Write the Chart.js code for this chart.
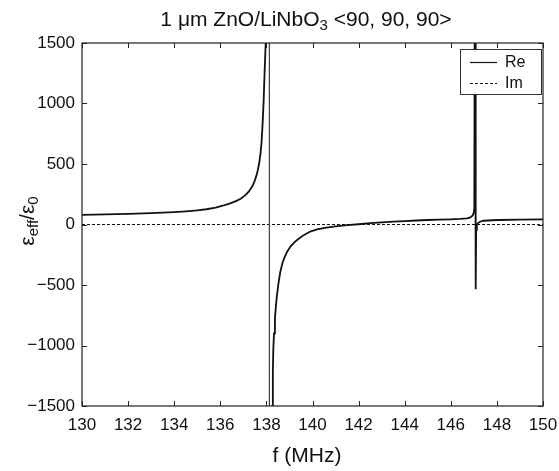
<!DOCTYPE html>
<html>
<head>
<meta charset="utf-8">
<script src="https://cdn.jsdelivr.net/npm/chart.js@4.4.1/dist/chart.umd.min.js"></script>
<style>
  body { margin: 0; background: #fff; }
  #wrap { width: 559px; height: 471px; }
</style>
</head>
<body>
<div id="wrap"><canvas id="chart"></canvas></div>
<script>
var reFreq = [130, 131, 132, 133, 134, 134.5, 135, 135.4, 135.8, 136.1, 136.4, 136.7, 136.9,
    137.1, 137.25, 137.4, 137.5, 137.6, 137.68, 137.74, 137.79, 137.84, 137.88, 137.92, 137.97,
    138.05, 138.13, 138.131, 138.2, 138.26, 138.28, 138.3, 138.33, 138.37, 138.41, 138.45,
    138.52, 138.6, 138.7, 138.8, 138.9, 139.05, 139.2, 139.4, 139.6, 139.9, 140.2, 140.6,
    141, 141.5, 142, 142.5, 143, 143.5, 144, 144.5, 145, 145.5, 146, 146.4, 146.7, 146.85,
    146.95, 147, 147.02, 147.05, 147.08, 147.1, 147.13, 147.18, 147.27, 147.41, 147.8, 148.1,
    149, 150];
var reVals = [80, 83, 88, 94, 103, 109, 117, 126, 140, 155, 172, 195, 215,
    245, 275, 320, 365, 425, 500, 580, 680, 850, 1020, 1250, 1500,
    4000, 100000, -100000, -5000, -1500, -1220, -1030, -900, -780, -680, -600,
    -490, -395, -315, -265, -225, -180, -150, -118, -90, -58, -40, -26,
    -15, -6, 2, 12, 17, 23, 28, 33, 37, 40, 43, 46, 50, 58,
    75, 100, 134, 3000, -536, -45, -5, 12, 23, 31, 35, 37,
    40, 42];
// imaginary part stays on zero over the whole span
var imFreq = [130, 150];
var imVals = [0, 0];

var xTicks = [130, 132, 134, 136, 138, 140, 142, 144, 146, 148, 150];
var yTicks = [-1500, -1000, -500, 0, 500, 1000, 1500];

var FONT = '"Liberation Sans", Arial, sans-serif';

function pts(xs, ys) {
    return xs.map(function (x, i) { return { x: x, y: ys[i] }; });
}

function runs(c, list, x, y) {
    // draws text pieces [text, size, dy] one after another, centred on x
    var tot = 0;
    list.forEach(function (p) { c.font = p[1] + 'px ' + FONT; tot += c.measureText(p[0]).width; });
    var cx = x - tot / 2;
    c.textAlign = 'left';
    c.textBaseline = 'alphabetic';
    list.forEach(function (p) {
        c.font = p[1] + 'px ' + FONT;
        c.fillText(p[0], cx, y + p[2]);
        cx += c.measureText(p[0]).width;
    });
}

var frame = {
    id: 'frame',
    afterDatasetsDraw: function (chart) {
        var c = chart.ctx, a = chart.chartArea;
        var xs = chart.scales.x, ys = chart.scales.y;
        c.save();
        c.strokeStyle = '#222';
        c.lineWidth = 1.2;
        c.strokeRect(a.left, a.top, a.right - a.left, a.bottom - a.top);
        c.lineWidth = 1;
        xTicks.forEach(function (t) {
            var px = Math.round(xs.getPixelForValue(t)) + 0.5;
            c.beginPath();
            c.moveTo(px, a.bottom); c.lineTo(px, a.bottom - 5);
            c.moveTo(px, a.top); c.lineTo(px, a.top + 5);
            c.stroke();
        });
        yTicks.forEach(function (t) {
            var py = Math.round(ys.getPixelForValue(t)) + 0.5;
            c.beginPath();
            c.moveTo(a.left, py); c.lineTo(a.left + 5, py);
            c.moveTo(a.right, py); c.lineTo(a.right - 5, py);
            c.stroke();
        });

        // legend box
        var lx = 460, ly = 49, lw = 81, lh = 45;
        c.fillStyle = '#fff';
        c.fillRect(lx, ly, lw, lh);
        c.strokeStyle = '#333';
        c.strokeRect(lx + 0.5, ly + 0.5, lw, lh);
        c.strokeStyle = '#111';
        c.lineWidth = 1.2;
        c.beginPath(); c.moveTo(470, 62.5); c.lineTo(497, 62.5); c.stroke();
        c.setLineDash([3, 2]);
        c.beginPath(); c.moveTo(470, 83.5); c.lineTo(497, 83.5); c.stroke();
        c.setLineDash([]);
        c.fillStyle = '#111';
        c.font = '16px ' + FONT;
        c.textBaseline = 'middle';
        c.textAlign = 'left';
        c.fillText('Re', 505, 63);
        c.fillText('Im', 505, 84);

        // chart title with subscript
        runs(c, [['1 \u03bcm ZnO/LiNbO', 21, 0], ['3', 15, 4], [' <90, 90, 90>', 21, 0]], 306, 26);

        // x axis title
        runs(c, [['f (MHz)', 21, 0]], 307, 462);

        // y axis title, rotated, with subscripts
        c.translate(34, 221);
        c.rotate(-Math.PI / 2);
        runs(c, [['\u03b5', 21, 0], ['eff', 15, 4], ['/\u03b5', 21, 0], ['0', 15, 4]], 0, 0);
        c.restore();
    }
};

new Chart(document.getElementById('chart'), {
    type: 'line',
    data: {
        datasets: [{
            label: 'Re',
            data: pts(reFreq, reVals),
            borderColor: '#111',
            borderWidth: 1.8,
            pointRadius: 0,
            tension: 0,
            clip: 0,
            segment: {
                borderWidth: function (ctx) {
                    return (ctx.p0.parsed.y > 10000 && ctx.p1.parsed.y < -10000) ? 1 : undefined;
                },
                borderColor: function (ctx) {
                    return (ctx.p0.parsed.y > 10000 && ctx.p1.parsed.y < -10000) ? '#444' : undefined;
                }
            }
        }, {
            label: 'Im',
            data: pts(imFreq, imVals),
            borderColor: '#111',
            borderWidth: 1,
            borderDash: [3, 2],
            pointRadius: 0,
            clip: 0
        }]
    },
    options: {
        responsive: true,
        maintainAspectRatio: false,
        animation: false,
        layout: { padding: { top: 43, right: 16, left: 0, bottom: 0 } },
        plugins: {
            legend: { display: false },
            tooltip: { enabled: false }
        },
        scales: {
            x: {
                type: 'linear',
                min: 130,
                max: 150,
                afterFit: function (s) { s.height = 65; s.paddingLeft = 0; s.paddingRight = 0; },
                afterBuildTicks: function (s) { s.ticks = xTicks.map(function (v) { return { value: v }; }); },
                grid: { display: false, drawTicks: false },
                border: { display: false },
                ticks: {
                    padding: 9,
                    color: '#111',
                    maxRotation: 0,
                    font: { family: FONT, size: 17 }
                }
            },
            y: {
                type: 'linear',
                min: -1500,
                max: 1500,
                afterFit: function (s) { s.width = 82; s.paddingTop = 0; s.paddingBottom = 0; },
                afterBuildTicks: function (s) { s.ticks = yTicks.map(function (v) { return { value: v }; }); },
                grid: { display: false, drawTicks: false },
                border: { display: false },
                ticks: {
                    padding: 7,
                    color: '#111',
                    font: { family: FONT, size: 17 },
                    callback: function (v) { return v < 0 ? '\u2212' + Math.abs(v) : '' + v; }
                }
            }
        }
    },
    plugins: [frame]
});
</script>
</body>
</html>
